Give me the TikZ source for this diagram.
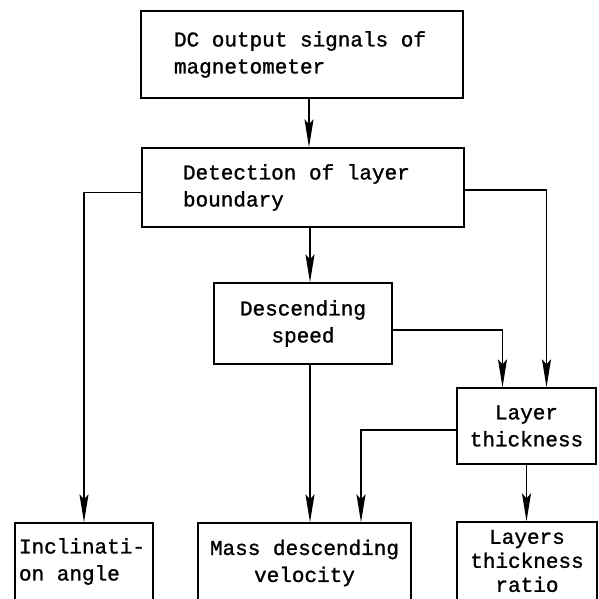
\documentclass[tikz,border=0pt]{standalone}
\usepackage{fontspec}
\newfontfamily\flowfont[FakeBold=1.2]{Liberation Mono}
\usetikzlibrary{arrows.meta}

\begin{document}
\begin{tikzpicture}[x=1pt, y=-1pt, line width=1.3pt,
    block/.style={draw, inner sep=0pt, font=\flowfont\fontsize{21}{27}\selectfont,
      execute at begin node={\spaceskip=0.6em\relax}},
    arr/.style={line width=1.8pt, -{Stealth[length=28pt,width=9pt,inset=5pt]}}]
  \useasboundingbox (0,0) rectangle (598,599);

  % top boxes
  \node[block, minimum width=322pt, minimum height=87pt, text width=256pt, align=left]
    (dc) at (302,54.5) {DC output signals of\\magnetometer};
  \node[block, minimum width=322pt, minimum height=79pt, text width=240pt, align=left]
    (detect) at (303,187.5) {Detection of layer\\boundary};

  % middle boxes
  \node[block, minimum width=178pt, minimum height=81pt, text width=170pt, align=center]
    (speed) at (303,323.5) {Descending\\speed};
  \node[block, minimum width=139pt, minimum height=76pt, text width=134pt, align=center]
    (thick) at (526.5,426) {Layer\\thickness};

  % results (cut off at the bottom)
  \node[block, minimum width=138pt, minimum height=77pt, text width=130pt, align=left]
    (incl) at (84,561.5) {Inclinati-\\on angle};
  \node[block, minimum width=213pt, minimum height=80pt, text width=200pt, align=center]
    (mass) at (304.5,563) {Mass descending\\velocity};
  \node[block, minimum width=140pt, minimum height=78pt, text width=134pt, align=center,
    font=\flowfont\fontsize{21}{24}\selectfont]
    (ratio) at (527,561) {Layers\\thickness\\ratio};

  % connections
  \draw[arr] ([xshift=7pt]dc.south) -- ([xshift=7pt]dc.south |- detect.north);
  \draw[arr] ([yshift=-5pt]detect.west) -| (incl.north);
  \draw[arr] ([yshift=-2.5pt]detect.east) -| ([xshift=20pt]thick.north);
  \draw[arr] ([xshift=7pt]detect.south) -- ([xshift=7pt]speed.north);
  \draw[arr] ([yshift=-6.5pt]speed.east) -| ([xshift=-24pt]thick.north);
  \draw[arr] ([xshift=7pt]speed.south) -- ([xshift=7pt]speed.south |- mass.north);
  \draw[arr] ([yshift=-4pt]thick.west) -| ([xshift=56.5pt]mass.north);
  \draw[arr] (thick.south) -- (thick.south |- ratio.north);
\end{tikzpicture}
\end{document}
